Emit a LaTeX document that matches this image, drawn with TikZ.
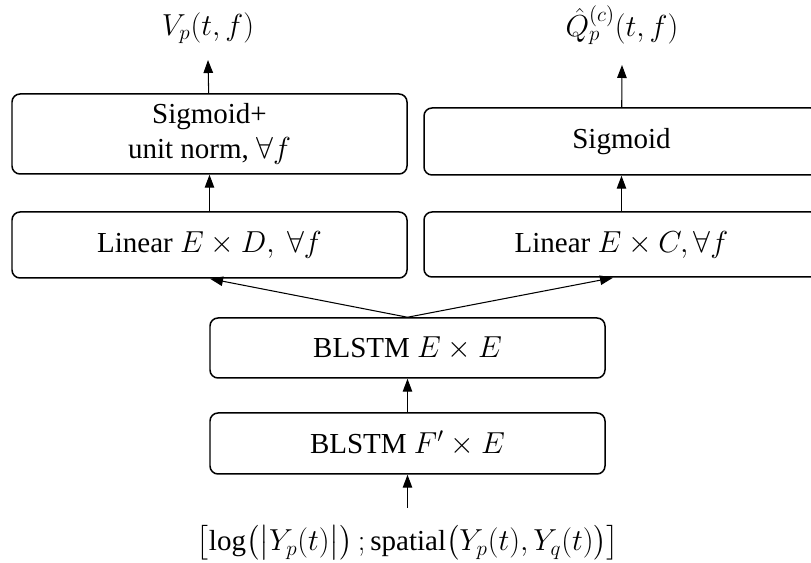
\documentclass[tikz,border=0pt]{standalone}
\usepackage{fontspec}
\setmainfont{Liberation Serif}
\usepackage{amsmath}
\usepackage{amssymb}
\usetikzlibrary{arrows.meta,positioning,calc}
\definecolor{Ink}{HTML}{000000}

\begin{document}
\begin{tikzpicture}[x=1cm,y=1cm,
  layer/.style={draw=Ink,rounded corners=0.16cm,line width=0.85pt,minimum width=7.9cm,align=center,inner sep=0pt},
  flow/.style={-{Triangle[length=0.26cm,width=0.19cm]},Ink,line width=0.6pt},
  every node/.style={font=\fontsize{16.5pt}{19.5pt}\selectfont}]
\useasboundingbox (0,0) rectangle (16.22,11.26);
\node[layer,minimum height=1.60cm] (sigl) at (4.19,8.58) {Sigmoid+\\unit norm, $\forall f$};
\node[layer,minimum height=1.32cm] (linl) at (4.19,6.36) {Linear $E\times D,\ \forall f$};
\node[layer,minimum height=1.34cm] (sigr) at (12.43,8.43) {Sigmoid};
\node[layer,minimum height=1.30cm] (linr) at (12.43,6.37) {Linear $E\times C,\forall f$};
\node[layer,minimum height=1.20cm] (bee) at (8.15,4.30) {BLSTM $E\times E$};
\node[layer,minimum height=1.22cm] (bfe) at (8.15,2.39) {BLSTM $F'\times E$};
\node (outv) at (4.16,10.70) {$V_p(t,f)$};
\node (outq) at (12.44,10.76) {$\hat{Q}_p^{(c)}(t,f)$};
\node (feat) at (8.16,0.40) {$\bigl[\log\bigl(\bigl|Y_p(t)\bigr|\bigr)\,;\mathrm{spatial}\bigl(Y_p(t),Y_q(t)\bigr)\bigr]$};
\coordinate (tipv) at (4.16,10.06);
\coordinate (tipq) at (12.44,9.96);
\coordinate (src) at (8.15,1.10);
\draw[flow] (src) -- (bfe);
\draw[flow] (bfe) -- (bee);
\draw[flow] (bee.north) -- ($(linl.south)+(0.01,0)$);
\draw[flow] (bee.north) -- ($(linr.south)+(-0.17,0)$);
\draw[flow] (linl) -- (sigl);
\draw[flow] (linr) -- (sigr);
\draw[flow] (sigl) -- (tipv);
\draw[flow] (sigr) -- (tipq);
\end{tikzpicture}
\end{document}
